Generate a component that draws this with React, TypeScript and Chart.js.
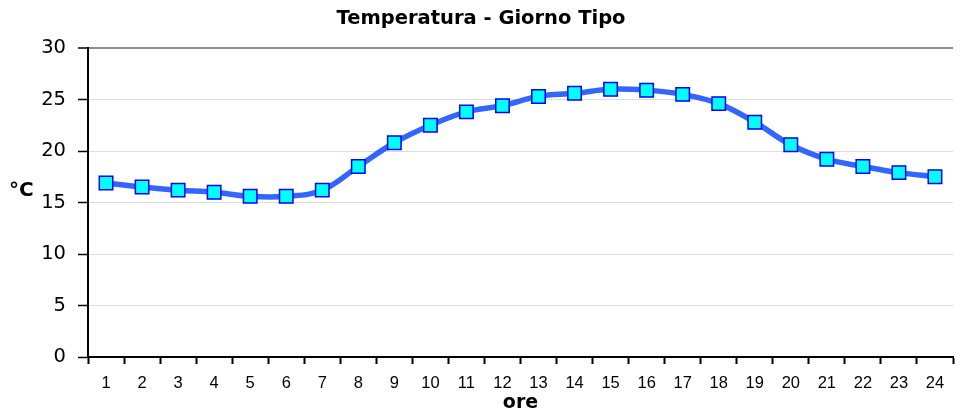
import React, { useEffect, useRef } from "react";
import { Chart, registerables } from "chart.js";

Chart.register(...registerables);

const hours: string[] = ["1","2","3","4","5","6","7","8","9","10","11","12","13","14","15","16","17","18","19","20","21","22","23","24"];
const temperature: number[] = [16.9, 16.5, 16.2, 16.0, 15.6, 15.6, 16.2, 18.5, 20.8, 22.5, 23.8, 24.4, 25.3, 25.6, 26.0, 25.9, 25.5, 24.6, 22.8, 20.6, 19.2, 18.5, 17.9, 17.5];
const titleText = "Temperatura - Giorno Tipo";
const yUnitLabel = "°C";
const xTitle = "ore";

const unitPlugin = {
  id: "unitLabel",
  afterDraw(chart: any) {
    const { ctx, scales } = chart;
    const y = scales.y.getPixelForValue(15);
    ctx.save();
    ctx.font = "bold 20px 'DejaVu Sans'";
    ctx.fillStyle = "#000";
    ctx.textAlign = "left";
    ctx.textBaseline = "middle";
    ctx.fillText(yUnitLabel, 9, y - 12);
    ctx.restore();
  },
};

export default function App() {
  const ref = useRef<HTMLCanvasElement | null>(null);
  useEffect(() => {
    document.body.style.margin = "0";
    const chart = new Chart(ref.current as HTMLCanvasElement, {
      type: "line",
      data: {
        labels: hours,
        datasets: [
          {
            data: temperature,
            borderColor: "#3366FF",
            borderWidth: 5.5,
            tension: 0.4,
            pointStyle: "rect",
            pointRadius: 9.5,
            pointBackgroundColor: "#00FFFF",
            pointBorderColor: "#0000FF",
            pointBorderWidth: 1.5,
          },
        ],
      },
      options: {
        animation: false,
        responsive: false,
        layout: { padding: { top: 0, right: 2, left: 0, bottom: 0 } },
        plugins: {
          legend: { display: false },
          tooltip: { enabled: false },
          title: {
            display: true,
            text: titleText,
            color: "#000",
            font: { family: "'DejaVu Sans'", size: 19.5, weight: "bold", lineHeight: 1.2 },
            padding: { top: 7, bottom: 17.6 },
          },
        },
        scales: {
          x: {
            offset: true,
            afterFit: (scale: any) => {
              scale.height = 55;
            },
            grid: {
              offset: true,
              drawOnChartArea: false,
              drawTicks: true,
              tickLength: 7,
              tickColor: "#000",
              tickWidth: 2,
            },
            border: { color: "#000", width: 2 },
            ticks: {
              color: "#000",
              font: { family: "'Liberation Sans Narrow', 'Liberation Sans'", size: 16.5 },
              padding: 10,
              maxRotation: 0,
              autoSkip: false,
            },
            title: {
              display: true,
              text: xTitle,
              color: "#000",
              font: { family: "'DejaVu Sans'", size: 19, weight: "bold", lineHeight: 1 },
              padding: { top: 0, bottom: -1 },
            },
          },
          y: {
            min: 0,
            max: 30,
            afterFit: (scale: any) => {
              scale.width = 88;
            },
            ticks: {
              stepSize: 5,
              color: "#000",
              font: { family: "'DejaVu Sans'", size: 19.5 },
              padding: 12,
            },
            grid: {
              color: (c: any) => (c.tick && c.tick.value === 30 ? "#8c8c8c" : "#dcdcdc"),
              lineWidth: (c: any) => (c.tick && c.tick.value === 30 ? 2 : 1),
              tickLength: 10,
              tickColor: "#000",
              tickWidth: 1.5,
            },
            border: { color: "#000", width: 2 },
          },
        },
      },
      plugins: [unitPlugin],
    });
    return () => chart.destroy();
  }, []);
  return (
    <div style={{ position: "absolute", left: 0, top: 0, width: 964, height: 412 }}>
      <canvas ref={ref} width={964} height={412} />
    </div>
  );
}
